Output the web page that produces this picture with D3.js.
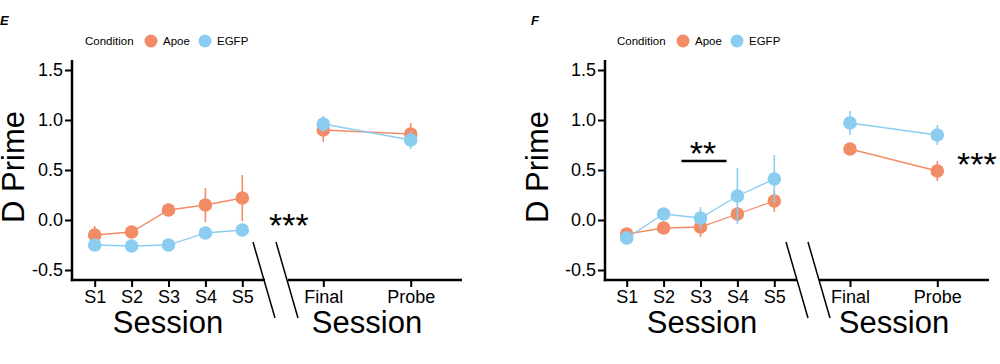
<!DOCTYPE html>
<html><head><meta charset="utf-8">
<script src="https://cdn.jsdelivr.net/npm/d3@7"></script>
<style>
html,body{margin:0;padding:0;background:#fff;}
svg{display:block;font-family:"Liberation Sans",Arial,Helvetica,sans-serif;}
</style></head>
<body>
<svg id="chart" width="1000" height="364"></svg>
<script>
// ---- data ----
const sessions = ["S1","S2","S3","S4","S5"];
const tests = ["Final","Probe"];
const yTicks = [-0.5, 0, 0.5, 1.0, 1.5];
const yTickLabels = ["-0.5", "0.0", "0.5", "1.0", "1.5"];
const conditions = ["Apoe","EGFP"];

// Panel E
const eApoeSession    = [-0.15, -0.12, 0.10, 0.15, 0.22];
const eApoeSessionErr = [0.09, 0.04, 0.03, 0.17, 0.23];
const eEgfpSession    = [-0.25, -0.26, -0.25, -0.13, -0.10];
const eEgfpSessionErr = [0.04, 0.03, 0.03, 0.03, 0.04];
const eApoeTest       = [0.90, 0.86];
const eApoeTestErr    = [0.12, 0.11];
const eEgfpTest       = [0.96, 0.80];
const eEgfpTestErr    = [0.08, 0.09];

// Panel F
const fApoeSession    = [-0.14, -0.08, -0.07, 0.06, 0.19];
const fApoeSessionErr = [0.05, 0.03, 0.10, 0.07, 0.11];
const fEgfpSession    = [-0.18, 0.06, 0.02, 0.24, 0.41];
const fEgfpSessionErr = [0.04, 0.03, 0.11, 0.28, 0.24];
const fApoeTest       = [0.71, 0.49];
const fApoeTestErr    = [0.04, 0.10];
const fEgfpTest       = [0.97, 0.85];
const fEgfpTestErr    = [0.12, 0.10];

const colors = {Apoe: "#F28C66", EGFP: "#8ACDF0"};

const svg = d3.select("#chart");
const y = d3.scaleLinear().domain([-0.6, 1.6]).range([280, 60]);

function drawPanel(cfg){
  const g = svg.append("g");
  // panel letter
  g.append("text").attr("x", cfg.letterX).attr("y", 25)
    .attr("font-size", 13).attr("font-weight", "bold").attr("font-style", "italic")
    .text(cfg.letter);
  // legend
  const lg = g.append("g").attr("transform", `translate(${cfg.legendX},41)`);
  lg.append("text").attr("x", 0).attr("y", 4).attr("font-size", 11.5).text("Condition");
  const legPos = [66, 120];
  conditions.forEach((c, i) => {
    lg.append("circle").attr("cx", legPos[i]).attr("cy", 0).attr("r", 6.5).attr("fill", colors[c]);
    lg.append("text").attr("x", legPos[i] + 12).attr("y", 4).attr("font-size", 11.5).text(c);
  });
  // y axis
  const yAxis = d3.axisLeft(y).tickValues(yTicks)
    .tickFormat((d, i) => yTickLabels[i]).tickSize(7).tickPadding(2);
  const ya = g.append("g").attr("transform", `translate(${cfg.yAxisX},0)`).call(yAxis);
  ya.select(".domain").remove();
  ya.selectAll(".tick line").attr("stroke", "#000").attr("stroke-width", 2);
  ya.selectAll(".tick text").attr("font-size", 18).attr("fill", "#000")
    .attr("font-family", "Liberation Sans, Arial, sans-serif");
  g.append("line").attr("x1", cfg.yAxisX).attr("x2", cfg.yAxisX).attr("y1", y.range()[1]).attr("y2", y.range()[0] + 1.25)
    .attr("stroke", "#000").attr("stroke-width", 2.5);
  // y label
  g.append("text").attr("transform", `translate(${cfg.yLabelX},${167}) rotate(-90)`)
    .attr("text-anchor", "middle").attr("font-size", 31).text("D Prime");

  // x scales
  const xs = d3.scalePoint().domain(sessions).range(cfg.sessRange);
  const xt = d3.scalePoint().domain(tests).range(cfg.testRange);

  // x axes
  function xAxis(scale, x0, x1){
    const ax = g.append("g").attr("transform", `translate(0,${y.range()[0]})`)
      .call(d3.axisBottom(scale).tickSize(7).tickPadding(3));
    ax.select(".domain").remove();
    ax.selectAll(".tick line").attr("stroke", "#000").attr("stroke-width", 2);
    ax.selectAll(".tick text").attr("font-size", 18).attr("fill", "#000")
      .attr("font-family", "Liberation Sans, Arial, sans-serif");
    g.append("line").attr("x1", x0).attr("x2", x1).attr("y1", y.range()[0]).attr("y2", y.range()[0])
      .attr("stroke", "#000").attr("stroke-width", 2.5);
  }
  xAxis(xs, cfg.yAxisX - 1.25, cfg.sessAxisEnd);
  xAxis(xt, cfg.testAxisStart, cfg.testAxisEnd);

  // break marks
  cfg.breaks.forEach(b => {
    g.append("line").attr("x1", b).attr("y1", 242).attr("x2", b + 22).attr("y2", 318)
      .attr("stroke", "#000").attr("stroke-width", 1.5);
  });

  // x titles
  g.append("text").attr("x", cfg.sessTitleX).attr("y", 333).attr("text-anchor", "middle")
    .attr("font-size", 31).text("Session");
  g.append("text").attr("x", cfg.testTitleX).attr("y", 333).attr("text-anchor", "middle")
    .attr("font-size", 31).text("Session");

  // series
  function series(xscale, cats, vals, errs, color){
    const data = cats.map((c, i) => ({c, v: vals[i], e: errs[i]}));
    g.append("path").datum(data)
      .attr("d", d3.line().x(d => xscale(d.c)).y(d => y(d.v)))
      .attr("fill", "none").attr("stroke", color).attr("stroke-width", 1.3);
    g.selectAll(null).data(data).enter().append("line")
      .attr("x1", d => xscale(d.c)).attr("x2", d => xscale(d.c))
      .attr("y1", d => y(d.v + d.e)).attr("y2", d => y(d.v - d.e))
      .attr("stroke", color).attr("stroke-width", 1.6);
    g.selectAll(null).data(data).enter().append("circle")
      .attr("cx", d => xscale(d.c)).attr("cy", d => y(d.v)).attr("r", 6.8)
      .attr("fill", color);
  }
  series(xs, sessions, cfg.apoeS, cfg.apoeSE, colors.Apoe);
  series(xs, sessions, cfg.egfpS, cfg.egfpSE, colors.EGFP);
  series(xt, tests, cfg.apoeT, cfg.apoeTE, colors.Apoe);
  series(xt, tests, cfg.egfpT, cfg.egfpTE, colors.EGFP);

  // significance annotations
  cfg.stars.forEach(s => {
    g.append("text").attr("x", s.x).attr("y", s.y).attr("text-anchor", s.anchor || "start")
      .attr("font-size", 34).text(s.t);
  });
  if (cfg.bar){
    g.append("line").attr("x1", xs(cfg.bar) - 19).attr("x2", xs(cfg.bar) + 26)
      .attr("y1", 161).attr("y2", 161).attr("stroke", "#000").attr("stroke-width", 2.5);
  }
}

drawPanel({
  letter: "E", letterX: 0, legendX: 85,
  yAxisX: 72, yLabelX: 24,
  sessRange: [94.7, 242.3], testRange: [323.3, 410.7],
  sessAxisEnd: 265, testAxisStart: 288, testAxisEnd: 462,
  breaks: [253, 276],
  sessTitleX: 168, testTitleX: 367,
  apoeS: eApoeSession, apoeSE: eApoeSessionErr, egfpS: eEgfpSession, egfpSE: eEgfpSessionErr,
  apoeT: eApoeTest, apoeTE: eApoeTestErr, egfpT: eEgfpTest, egfpTE: eEgfpTestErr,
  stars: [{t: "***", x: 269, y: 237}]
});

drawPanel({
  letter: "F", letterX: 531, legendX: 617,
  yAxisX: 605, yLabelX: 548,
  sessRange: [626.7, 774.3], testRange: [850, 937.3],
  sessAxisEnd: 797, testAxisStart: 819, testAxisEnd: 989,
  breaks: [786, 808],
  sessTitleX: 702, testTitleX: 894,
  apoeS: fApoeSession, apoeSE: fApoeSessionErr, egfpS: fEgfpSession, egfpSE: fEgfpSessionErr,
  apoeT: fApoeTest, apoeTE: fApoeTestErr, egfpT: fEgfpTest, egfpTE: fEgfpTestErr,
  stars: [{t: "***", x: 957, y: 176}, {t: "**", x: 703, y: 165, anchor: "middle"}],
  bar: "S3"
});
</script>
</body></html>
